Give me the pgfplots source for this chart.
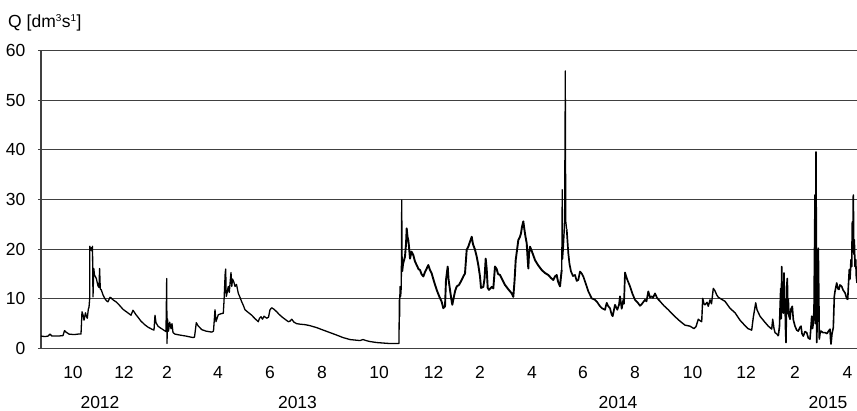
\documentclass[border=0pt]{standalone}
\usepackage{fontspec}
\setmainfont{Liberation Sans}
\usepackage{pgfplots}
\pgfplotsset{compat=1.18}
\begin{document}
\begin{tikzpicture}[font=\fontsize{17.5bp}{20bp}\selectfont]
\useasboundingbox (-41bp,-62.5bp) rectangle (816bp,348.5bp);
\begin{axis}[
  at={(0,0)}, anchor=south west,
  scale only axis, width=816bp, height=298bp,
  xmin=41, xmax=857, ymin=0, ymax=60,
  axis lines*=left,
  axis line style={black!75, line width=1.1bp},
  ytick={0,10,...,60},
  ymajorgrids,
  grid style={black!75, line width=1.1bp},
  xtick={73,124,167,218,270,322,379,433.5,480,532,583,635,692.5,746,795,847.5},
  xticklabels={10,12,2,4,6,8,10,12,2,4,6,8,10,12,2,4},
  x tick style={draw=none},
  y tick style={black!75, line width=1.1bp},
  tick align=outside,
  major tick length=3bp,
  /pgf/number format/assume math mode=true,
  xticklabel style={anchor=north, inner sep=0pt, yshift=-14.5bp},
  yticklabel style={anchor=east, inner sep=0pt, xshift=-12.5bp},
  clip=false,
]
% Sep 2012 - Oct 2013
\addplot[black, line width=1.3bp, line join=round] coordinates {
(41,2.5) (45,2.4) (48,2.5) (50,2.9) (52,2.5) (58,2.5) (63,2.6) (64.5,3.6) (66,3.3) (69,2.9) (74,2.8) (78,2.9) (81,2.9)
(82,7.4) (83,6.8) (84,5.7) (85.5,7.2) (86.5,6.4) (87.3,6.1) (88.3,7.9) (89,8.3) (89.7,10.1) (89.8,20.6) (90.5,19.8) (91.3,20.3) (92,19.6) (92.5,20.6)
(93,10.4) (93.8,16.1) (94.5,14.8) (96.3,14.1) (98,12.6) (99,12.3) (99.6,16.1) (100.3,12.0) (101.3,11.8) (103,10.8) (104.7,10.1) (106.5,9.6) (108,9.4)
(110,10.3) (111,10.2) (113,9.8) (116,9.4) (119,8.8) (123,7.9) (127,7.3) (131,6.7) (133,7.7) (134,7.4) (136,6.8) (138,6.3) (141,5.5) (144.7,4.8)
(148,4.3) (151.7,3.9) (154,3.7) (155,6.7) (156,5.2) (158,4.5) (160,4.2) (163,3.8) (166,3.4) (166.7,14.1) (167,1.0) (167.5,6.0) (168.5,3.5)
(169.7,5.3) (171,4.0) (172,5.0) (173,3.2) (175,2.9) (180,2.7) (186,2.5) (193,2.2) (194.5,2.3) (196.3,5.2) (198,4.6) (201.7,3.8) (206,3.5)
(211.7,3.3) (213.5,3.5) (215,7.8) (216,5.4) (218.3,6.8) (221,7.0) (223.3,7.1) (224,9.5) (225.2,15.2) (225.7,16.0) (226.2,10.5) (226.7,10.8)
(228.3,12.5) (229.3,11.3) (230.2,13.5) (231,15.3) (231.8,12.5) (232.5,14.0) (234,13.3) (235,12.5) (236.5,12.9) (238.3,11.1) (240,10.3)
(241.7,9.4) (243.5,8.6) (245,7.8) (248,7.3) (251.7,6.7) (255,6.0) (258.3,5.4) (259.5,6.1) (261,6.4) (262.5,5.9) (264,6.5) (266.7,6.1)
(268.5,6.3) (270,7.8) (271.7,8.2) (274,7.9) (276.7,7.4) (279,6.9) (281.7,6.4) (285,5.9) (288.3,5.4) (290,5.5) (291.7,5.9) (294,5.3)
(296.7,5.0) (300,4.9) (305,4.8) (310,4.6) (313.3,4.4) (316.7,4.2) (323.3,3.7) (330,3.2) (336.7,2.7) (343,2.2) (350,1.8) (355,1.7)
(360,1.6) (363,1.8) (366,1.6) (370,1.4) (376.7,1.2) (383,1.1) (390,1.0) (399,1.0)
(399.3,9.8) (399.6,6.4) (400,12.5) (400.7,10.5) (401.3,12.5) (401.7,29.9) (402.2,15.5)
};
% Nov 2013 - Jun 2014 (noisy)
\addplot[black, line width=1.9bp, line join=round] coordinates {
(402.2,15.5) (403,17.0) (405,18.5) (406,21.0) (406.7,24.2)
(407.5,22.5) (408.3,21.8) (409,20.5) (410,18.1) (411.5,19.5) (413.3,18.8) (415,17.5) (416.7,16.8) (418.5,16.0) (420,15.8) (421.5,15.0)
(423.3,14.5) (425,15.4) (426,15.8) (428.3,16.8) (430,15.8) (431.7,15.1) (434,13.5) (436.7,11.8) (439,10.6) (441.7,9.4) (443.3,8.1)
(444.3,8.4) (445,8.4) (446,13.8) (447.7,16.5) (448.5,14.0) (450,11.8) (451.3,10.0) (452.3,8.8) (453.5,10.0) (455,11.5) (456.7,12.5)
(459,12.8) (461.7,13.8) (463.3,14.5) (465,15.1) (466.7,19.9) (468.3,20.5) (470,21.5) (471.7,22.5) (473,21.0) (475,19.9) (476.7,18.5)
(478.3,16.8) (480,14.5) (481,12.2) (483.3,12.4) (484.5,14.0) (485.7,18.1) (486.7,16.0) (487.7,12.2) (489,11.8) (491.7,12.4) (493.3,12.1)
(495,16.5) (496.7,16.0) (498,15.0) (500,14.8) (502,14.0) (505,12.8) (508,12.0) (511.7,11.1) (513.3,10.4) (514.5,13.5) (515.7,17.8)
(518.3,21.8) (520,22.5) (521,23.2) (522,24.5) (523.3,25.6) (524.5,23.8) (525.5,22.5) (526.7,21.2) (527.5,18.5) (528.3,16.1) (529,19.0)
(530,20.5) (532,19.5) (535,17.8) (538,16.8) (541.7,15.8) (545,15.2) (548.3,14.8) (551,14.2) (553.3,13.8) (555,14.5) (556.7,14.8)
(558,13.5) (560,12.5) (561,14.5) (561.7,15.8)
};
\addplot[black, line width=1.2bp, line join=round] coordinates {
(561.7,15.8) (562.2,32.0) (562.6,18.0) (563.3,20.0) (564.5,24.5) (565.3,55.9) (565.8,25.6) (566.7,24.0)
};
\addplot[black, line width=1.7bp, line join=round] coordinates {
(566.7,24.0) (568.3,19.2) (569.5,17.0) (571,15.5) (573,14.6) (575,14.8) (576.7,13.6) (578.3,13.8) (580,15.5) (581.7,15.1) (583.3,14.5) (585,13.5)
(586.7,12.5) (588.3,11.5) (590,10.8) (591.7,10.1) (595,9.8) (597,9.4) (600,8.5) (602,8.1) (605,7.8) (606.7,9.2) (608,8.6) (610,8.1)
(611.7,6.8) (612.7,6.5) (614,7.8) (615,8.8) (617.3,7.8) (619,8.8) (620,10.5) (621.7,8.0) (623.3,9.8) (624,9.0) (625,15.3) (627,14.0)
(630,12.5) (632.5,11.0) (635,9.8) (637.5,9.3) (640,8.6) (642,9.0) (645,9.8) (646.5,9.5) (648.3,11.5) (650,10.3) (651.7,10.5) (653,10.2)
(655,11.1) (657,10.2) (660,9.5)
};
% Jul 2014 - Apr 2015
\addplot[black, line width=1.4bp, line join=round] coordinates {
(660,9.5) (664,8.6) (668.3,7.8) (672,7.0) (676.7,6.1) (680,5.5) (685,4.7) (690,4.5) (694,4.0) (696,4.4) (698.3,5.9)
(700,5.6) (701.7,5.4) (702.7,10.1) (704,9.0) (705,8.8) (707,9.3) (708.3,8.5) (710,9.8) (711.5,9.0) (713.3,12.1) (715,11.6) (716.7,10.8)
(718.3,10.3) (720,10.1) (725,9.5) (730,8.1) (735,7.2) (740,5.7) (745,4.6) (748,4.0) (751.7,3.7) (753.3,6.3) (755.7,9.2) (757,7.8)
(760,6.5) (764,5.5) (768.3,4.5) (771.7,3.9) (772.7,5.9) (774,4.0) (775,3.2) (777,2.9) (778.3,2.5)
};
\addplot[black, line width=1.6bp, line join=round] coordinates {
(778.3,2.5) (779.5,4.5) (780,7.9) (780.7,12.1)
(781.2,6.0) (781.7,16.5) (782.3,9.0) (782.7,10.5) (783.3,7.1) (784,15.2) (784.5,8.0) (785,9.9) (785.5,4.0) (786,1.2) (786.7,12.5)
(787.3,14.1) (788,7.0) (788.3,9.9) (789,6.5) (790,5.9) (791,8.0) (792.3,8.5) (793.3,5.8) (795,4.5) (796.7,3.7) (798.3,3.5) (800,4.3)
(801,4.5) (802,3.0) (803.3,2.5) (805,3.4) (806.7,3.2) (808.3,2.1) (810,1.9) (811,4.5) (811.7,6.5) (812.5,4.0) (813.3,5.0) (814,8.0)
(815,30.9) (815.5,5.0) (816,39.6) (816.5,10.0) (816.7,1.2) (817.5,8.0) (818.3,20.2) (819.3,1.9) (820,3.0) (821,3.5) (823,3.2) (825,3.2)
(827,3.0) (828.5,3.5) (830,3.9) (830.5,2.0) (831,0.9) (832,3.0) (833.3,4.2) (834.3,10.5) (835,11.5) (836.7,13.2) (838,12.0) (839,11.9)
(840,12.8) (841.7,12.5) (843,11.8) (845,11.2) (846.7,10.1) (847.7,9.9) (848.5,13.0) (849.3,15.9) (850,14.0) (851,17.9) (851.7,16.5)
(852.3,25.5) (852.8,20.0) (853.3,30.9) (853.8,19.0) (854.3,21.9) (855,16.5) (855.7,17.9) (856.3,14.5) (857,13.2)
};
\node[anchor=base west, inner sep=0pt] at (rel axis cs:0,1) [xshift=-33bp, yshift=23bp] {Q [dm\textsuperscript{\fontsize{10bp}{10bp}\selectfont 3}s\textsuperscript{\fontsize{10bp}{10bp}\selectfont 1}]};
\node at (axis cs:100,0) [yshift=-54bp] {2012};
\node at (axis cs:297.5,0) [yshift=-54bp] {2013};
\node at (axis cs:618,0) [yshift=-54bp] {2014};
\node at (axis cs:828,0) [yshift=-54bp] {2015};
\end{axis}
\end{tikzpicture}
\end{document}
